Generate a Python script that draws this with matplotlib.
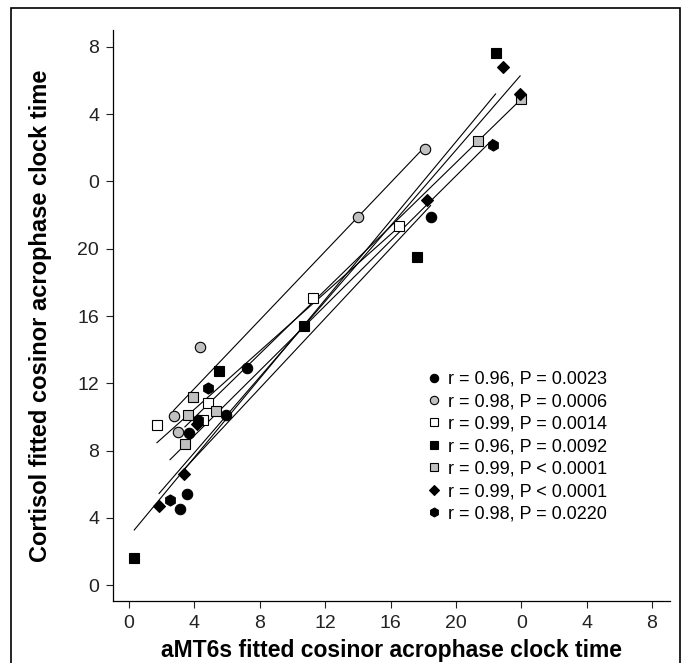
import numpy as np
import matplotlib.pyplot as plt
from matplotlib.patches import Rectangle
from matplotlib.ticker import FuncFormatter

plt.rcParams['font.family'] = ['Liberation Sans', 'DejaVu Sans']

# acrophase clock times (hours, continued past midnight as 24+)
circ_black_x = [3.13, 3.53, 3.66, 5.94, 7.22, 18.45]
circ_black_y = [4.5, 5.43, 9.02, 10.13, 12.92, 21.9]
circ_gray_x = [2.73, 3.02, 4.33, 14.04, 18.13]
circ_gray_y = [10.03, 9.12, 14.13, 21.91, 25.92]
sq_white_x = [1.71, 4.5, 4.84, 11.23, 16.52]
sq_white_y = [9.51, 9.8, 10.8, 17.1, 21.34]
sq_black_x = [0.32, 5.51, 10.7, 17.65, 22.43]
sq_black_y = [1.6, 12.74, 15.4, 19.5, 31.65]
sq_gray_x = [3.42, 3.64, 3.9, 5.35, 21.34, 23.96]
sq_gray_y = [8.4, 10.13, 11.2, 10.34, 26.4, 28.9]
diam_x = [1.84, 3.34, 4.15, 18.24, 22.86, 23.93]
diam_y = [4.7, 6.61, 9.6, 22.92, 30.83, 29.2]
hex_x = [2.51, 4.25, 4.84, 22.25]
hex_y = [5.04, 9.82, 11.73, 26.2]

labels = ['r = 0.96, P = 0.0023', 'r = 0.98, P = 0.0006', 'r = 0.99, P = 0.0014',
          'r = 0.96, P = 0.0092', 'r = 0.99, P < 0.0001', 'r = 0.99, P < 0.0001',
          'r = 0.98, P = 0.0220']

series = [
    (circ_black_x, circ_black_y, 'o', 'black', 7.5),
    (circ_gray_x, circ_gray_y, 'o', '#c0c0c0', 7.5),
    (sq_white_x, sq_white_y, 's', 'white', 7),
    (sq_black_x, sq_black_y, 's', 'black', 7),
    (sq_gray_x, sq_gray_y, 's', '#c0c0c0', 7),
    (diam_x, diam_y, 'D', 'black', 6),
    (hex_x, hex_y, 'h', 'black', 8),
]

fig = plt.figure(figsize=(6.86, 6.63), dpi=100)
ax = fig.add_axes([0.1647, 0.0935, 0.812, 0.861])

# regression lines first, markers on top
for x, y, m, c, s in series:
    x = np.array(x)
    slope, icpt = np.polyfit(x, y, 1)
    xs = np.array([x.min(), x.max()])
    ax.plot(xs, slope * xs + icpt, color='black', lw=0.8, zorder=2)

for (x, y, m, c, s), lab in zip(series, labels):
    ax.plot(x, y, linestyle='none', marker=m, markersize=s, markerfacecolor=c,
            markeredgecolor='black', markeredgewidth=0.8, label=lab, zorder=3)

ax.set_xlim(-0.98, 33.1)
ax.set_ylim(-0.95, 33.0)
ticks = np.arange(0, 33, 4)
ax.set_xticks(ticks)
ax.set_yticks(ticks)
fmt = FuncFormatter(lambda v, p: f'{int(v) % 24}')
ax.xaxis.set_major_formatter(fmt)
ax.yaxis.set_major_formatter(fmt)
ax.tick_params(labelsize=14, length=5, width=0.8, colors='#222222', pad=5)
for side in ['top', 'right']:
    ax.spines[side].set_visible(False)
for side in ['left', 'bottom']:
    ax.spines[side].set_linewidth(0.9)

ax.set_xlabel('aMT6s fitted cosinor acrophase clock time', fontsize=16.5,
              fontweight='bold', labelpad=5)
ax.set_ylabel('Cortisol fitted cosinor acrophase clock time', fontsize=17,
              fontweight='bold', labelpad=18)

ax.legend(loc='lower right', bbox_to_anchor=(0.9, 0.125), frameon=False,
          fontsize=13, markerscale=0.8, handlelength=0.8, handletextpad=0.4,
          labelspacing=0.3, borderaxespad=0)

fig.patches.append(Rectangle((11 / 686, -0.05), 669 / 686, 1.05 - 8 / 663,
                             transform=fig.transFigure, fill=False,
                             edgecolor='black', linewidth=1.2))

fig.savefig('out.png', dpi=100)
